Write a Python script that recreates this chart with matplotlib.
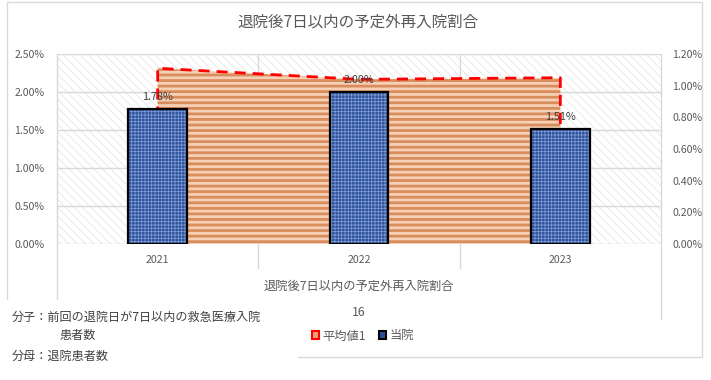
import matplotlib
matplotlib.use("Agg")
import matplotlib.pyplot as plt
from matplotlib.patches import Rectangle, Patch
from matplotlib.transforms import blended_transform_factory
from matplotlib.ticker import FuncFormatter

plt.rcParams['font.family'] = ['Noto Sans CJK JP', 'DejaVu Sans']

# data
years = ['2021', '2022', '2023']
own = [1.78, 2.00, 1.51]          # 当院 (%), left axis
avg = [1.11, 1.04, 1.05]          # 平均値1 (%), right axis
left_ticks = [0.0, 0.5, 1.0, 1.5, 2.0, 2.5]
right_ticks = [0.0, 0.2, 0.4, 0.6, 0.8, 1.0, 1.2]
title = '退院後7日以内の予定外再入院割合'
group_label = '退院後7日以内の予定外再入院割合'
sub_label = '16'
notes = ['分子：前回の退院日が7日以内の救急医療入院', '患者数', '分母：退院患者数']

gray = '#595959'
grid_c = '#D9D9D9'

W, H = 711, 380
fig = plt.figure(figsize=(W / 100, H / 100), dpi=100)

# outer chart border
fig.patches.append(Rectangle((7 / W, 1 - 357 / H), 695 / W, 355 / H, transform=fig.transFigure,
                             fill=False, edgecolor=grid_c, lw=1))

ax = fig.add_axes([57 / W, 1 - 244 / H, 604 / W, 190 / H])
ax2 = ax.twinx()
x = range(len(years))

ax.set_xlim(-0.5, len(years) - 0.5)
ax.set_ylim(0, 2.5)
ax2.set_ylim(0, 1.2)


def hatch_lw(artists, lw):
    for a in artists:
        if hasattr(a, 'set_hatch_linewidth'):
            a.set_hatch_linewidth(lw)


# background pattern
with plt.rc_context({'hatch.linewidth': 0.6}):
    bg = ax.add_patch(Rectangle((0, 0), 1, 1, transform=ax.transAxes, facecolor='white',
                                hatch='\\\\\\\\', edgecolor='#E6E6E6', lw=0, zorder=0))
hatch_lw([bg], 0.6)

# gridlines
for t in left_ticks:
    ax.axhline(t, color=grid_c, lw=1, zorder=0.5)

# category separators / axis lines
trans = blended_transform_factory(ax.transData, ax.transAxes)
ax.plot([-0.5, -0.5], [1, -0.295], transform=trans, color=grid_c, lw=1, clip_on=False, zorder=0.5)
for s in [0.5, 1.5]:
    ax.plot([s, s], [1, -0.126], transform=trans, color=grid_c, lw=1, clip_on=False, zorder=0.5)
ax.plot([2.5, 2.5], [1, -0.395], transform=trans, color=grid_c, lw=1, clip_on=False, zorder=0.5)

# average area on secondary scale
with plt.rc_context({'hatch.linewidth': 2.0}):
    area = ax.fill_between(list(x), avg, 0, transform=ax2.transData, facecolor='#F5D0B6',
                           hatch='---', edgecolor='#D98C5C', lw=0, zorder=1)
hatch_lw([area], 2.0)
ax.plot([0] + list(x) + [len(years) - 1], [0] + avg + [0], transform=ax2.transData,
        color='#FF0000', lw=2, dashes=(4, 2.5), zorder=2, clip_on=False)

# own hospital bars
with plt.rc_context({'hatch.linewidth': 0.6}):
    bars = ax.bar(x, own, width=0.29, color='#2B4F98', edgecolor='#7D99D4', hatch='+++++',
                  lw=0, zorder=3)
hatch_lw(bars, 0.6)
ax.bar(x, own, width=0.29, fill=False, edgecolor='black', lw=1.6, zorder=4)
for i, v in enumerate(own):
    ax.annotate(f'{v:.2f}%', (i, v), xytext=(0, 5), textcoords='offset points',
                ha='center', va='bottom', fontsize=7.8, color='#404040', zorder=5)

for a in (ax, ax2):
    for sp in a.spines.values():
        sp.set_visible(False)
ax.set_yticks(left_ticks)
ax.yaxis.set_major_formatter(FuncFormatter(lambda v, p: f'{v:.2f}%'))
ax2.set_yticks(right_ticks)
ax2.yaxis.set_major_formatter(FuncFormatter(lambda v, p: f'{v:.2f}%'))
ax.set_xticks(list(x))
ax.set_xticklabels(years)
ax.tick_params(axis='both', length=0, labelsize=7.6, labelcolor=gray)
ax.tick_params(axis='x', pad=8)
ax.tick_params(axis='y', pad=9)
ax2.tick_params(axis='y', length=0, labelsize=7.6, labelcolor=gray, pad=8)

# multi-level category labels
fig.text(359 / W, 1 - 286 / H, group_label, ha='center', va='center', fontsize=8.8, color=gray)
fig.text(359 / W, 1 - 312 / H, sub_label, ha='center', va='center', fontsize=8.8, color=gray)

fig.text(358 / W, 1 - 22 / H, title, ha='center', va='center', fontsize=11.2, color=gray)

handles = [Patch(facecolor='#E8A27A', edgecolor='#FF0000', lw=1.5),
           Patch(facecolor='#2B4F98', edgecolor='black', lw=1.5)]
fig.legend(handles, ['平均値1', '当院'], loc='center', bbox_to_anchor=(363 / W, 1 - 336 / H),
           ncol=2, frameon=False, fontsize=8.8, labelcolor=gray, handlelength=0.6,
           handleheight=0.6, handletextpad=0.3, columnspacing=1.0)

# footnote text box
fig.patches.append(Rectangle((0, 0), 298 / W, 80 / H, transform=fig.transFigure,
                             facecolor='white', edgecolor='none', zorder=5))
fig.text(12 / W, 1 - 317 / H, notes[0], ha='left', va='center', fontsize=8.7, color='#404040', zorder=6)
fig.text(60 / W, 1 - 336 / H, notes[1], ha='left', va='center', fontsize=8.7, color='#404040', zorder=6)
fig.text(12 / W, 1 - 356 / H, notes[2], ha='left', va='center', fontsize=8.7, color='#404040', zorder=6)

fig.savefig('out.png', dpi=100)
